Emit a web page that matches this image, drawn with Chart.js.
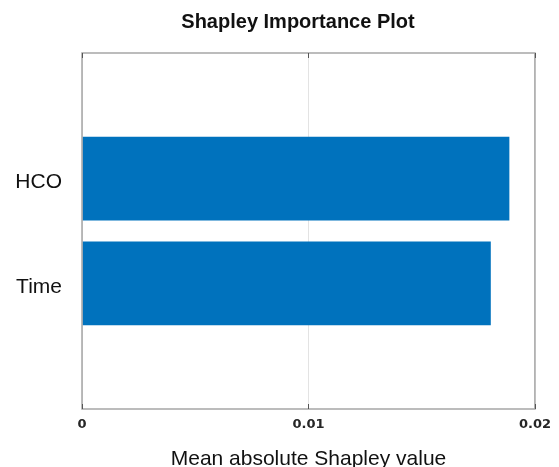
<!DOCTYPE html>
<html>
<head>
<meta charset="utf-8">
<title>Shapley Importance Plot</title>
<script src="https://cdn.jsdelivr.net/npm/chart.js@4.4.1/dist/chart.umd.min.js"></script>
<style>
  html, body { margin: 0; padding: 0; background: #fff; }
  #wrap { width: 559px; height: 467px; }
</style>
</head>
<body>
<div id="wrap"><canvas id="shap-chart" width="559" height="467"></canvas></div>
<script>
// features, bottom to top
var features = ['Time', 'HCO'];
var meanAbsShap = [0.01805, 0.01887];
var featurePos = [1, 2];
var xTicks = [0, 0.01, 0.02];

var barBlue = '#0072BD';
var chartTitle = 'Shapley Importance Plot';

// box round the plot area, small inward tick marks, and the title
var boxPlugin = {
    id: 'box',
    afterDraw: function(chart) {
        var a = chart.chartArea, ctx = chart.ctx, xs = chart.scales.x;
        ctx.save();
        ctx.strokeStyle = '#a6a6a6';
        ctx.lineWidth = 1.5;
        ctx.strokeRect(a.left, a.top, a.right - a.left, a.bottom - a.top);
        ctx.strokeStyle = '#555';
        ctx.lineWidth = 1;
        xTicks.forEach(function(t) {
            var px = Math.round(xs.getPixelForValue(t)) + 0.5;
            ctx.beginPath();
            ctx.moveTo(px, a.bottom); ctx.lineTo(px, a.bottom - 5);
            ctx.moveTo(px, a.top); ctx.lineTo(px, a.top + 5);
            ctx.stroke();
        });
        ctx.fillStyle = '#111';
        ctx.font = 'bold 20px "Liberation Sans", Arial, sans-serif';
        ctx.textAlign = 'center';
        ctx.textBaseline = 'alphabetic';
        ctx.fillText(chartTitle, 298, 28);
        ctx.restore();
    }
};

var ctx = document.getElementById('shap-chart');
var chart = new Chart(ctx, {
    type: 'bar',
    data: {
        datasets: [{
            data: meanAbsShap.map(function(v, i) { return { x: v, y: featurePos[i] }; }),
            backgroundColor: barBlue,
            borderWidth: 0,
            barPercentage: 0.8,
            categoryPercentage: 1.0
        }]
    },
    options: {
        indexAxis: 'y',
        responsive: false,
        animation: false,
        layout: { padding: { left: 0, right: 24, top: 53, bottom: 0 } },
        plugins: {
            legend: { display: false },
            tooltip: { enabled: false },
            title: { display: false }
        },
        scales: {
            x: {
                type: 'linear',
                min: 0,
                max: 0.02,
                afterBuildTicks: function(scale) {
                    scale.ticks = xTicks.map(function(v) { return { value: v }; });
                },
                afterFit: function(scale) { scale.height = 58; },
                grid: { color: '#e3e3e3', drawTicks: false },
                border: { display: false },
                ticks: {
                    padding: 8,
                    color: '#262626',
                    font: { family: 'DejaVu Sans', size: 13, weight: 'bold' },
                    callback: function(v) { return String(+v.toFixed(4)); }
                },
                title: {
                    display: true,
                    text: 'Mean absolute Shapley value',
                    color: '#111',
                    font: { family: 'Liberation Sans, Arial, sans-serif', size: 21 },
                    padding: { top: 0, bottom: -5 }
                }
            },
            y: {
                type: 'linear',
                offset: false,
                min: -0.2,
                max: 3.2,
                afterBuildTicks: function(scale) {
                    scale.ticks = featurePos.map(function(v) { return { value: v }; });
                },
                afterFit: function(scale) { scale.width = 82; },
                grid: { display: false, drawTicks: false },
                border: { display: false },
                ticks: {
                    padding: 20,
                    labelOffset: 4,
                    color: '#111',
                    font: { family: 'Liberation Sans, Arial, sans-serif', size: 21 },
                    callback: function(v) {
                        var i = featurePos.indexOf(v);
                        return i >= 0 ? features[i] : '';
                    }
                }
            }
        }
    },
    plugins: [boxPlugin]
});
</script>
</body>
</html>
